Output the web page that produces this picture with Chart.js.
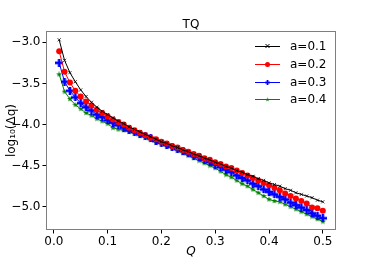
<!DOCTYPE html>
<html>
<head>
<meta charset="utf-8">
<script src="https://cdn.jsdelivr.net/npm/chart.js@4/dist/chart.umd.min.js"></script>
<style>
  html, body { margin: 0; padding: 0; background: #fff; }
  #wrap { width: 374px; height: 259px; }
</style>
</head>
<body>
<div id="wrap"><canvas id="c" width="374" height="259"></canvas></div>
<script>
// Q values, 0.01 .. 0.50
const qValues = [
  0.01, 0.02, 0.03, 0.04, 0.05, 0.06, 0.07, 0.08, 0.09, 0.10,
  0.11, 0.12, 0.13, 0.14, 0.15, 0.16, 0.17, 0.18, 0.19, 0.20,
  0.21, 0.22, 0.23, 0.24, 0.25, 0.26, 0.27, 0.28, 0.29, 0.30,
  0.31, 0.32, 0.33, 0.34, 0.35, 0.36, 0.37, 0.38, 0.39, 0.40,
  0.41, 0.42, 0.43, 0.44, 0.45, 0.46, 0.47, 0.48, 0.49, 0.50
];

const a01 = [
  -2.97, -3.22, -3.37, -3.48, -3.58, -3.66, -3.73, -3.79, -3.84, -3.88,
  -3.92, -3.96, -3.99, -4.03, -4.06, -4.09, -4.12, -4.15, -4.18, -4.21,
  -4.23, -4.26, -4.28, -4.31, -4.33, -4.36, -4.38, -4.41, -4.43, -4.46,
  -4.48, -4.51, -4.53, -4.56, -4.58, -4.61, -4.63, -4.66, -4.68, -4.71,
  -4.73, -4.75, -4.78, -4.80, -4.83, -4.85, -4.87, -4.89, -4.92, -4.94
];

const a02 = [
  -3.11, -3.36, -3.49, -3.59, -3.66, -3.72, -3.77, -3.82, -3.86, -3.90,
  -3.94, -3.97, -4.00, -4.04, -4.07, -4.10, -4.13, -4.16, -4.18, -4.21,
  -4.23, -4.26, -4.28, -4.31, -4.33, -4.36, -4.38, -4.41, -4.43, -4.46,
  -4.48, -4.51, -4.53, -4.56, -4.59, -4.62, -4.65, -4.68, -4.71, -4.74,
  -4.77, -4.80, -4.84, -4.87, -4.90, -4.93, -4.96, -5.01, -5.02, -5.05
];

const a03 = [
  -3.25, -3.48, -3.59, -3.67, -3.74, -3.79, -3.83, -3.88, -3.91, -3.95,
  -3.98, -4.01, -4.04, -4.07, -4.09, -4.12, -4.14, -4.17, -4.20, -4.22,
  -4.25, -4.27, -4.30, -4.32, -4.35, -4.38, -4.40, -4.43, -4.46, -4.49,
  -4.52, -4.55, -4.58, -4.62, -4.65, -4.68, -4.72, -4.75, -4.79, -4.82,
  -4.85, -4.88, -4.91, -4.95, -4.98, -5.01, -5.04, -5.08, -5.11, -5.14
];

const a04 = [
  -3.39, -3.60, -3.69, -3.76, -3.81, -3.86, -3.89, -3.93, -3.96, -3.99,
  -4.04, -4.06, -4.07, -4.09, -4.11, -4.14, -4.16, -4.19, -4.22, -4.24,
  -4.27, -4.29, -4.32, -4.35, -4.38, -4.41, -4.44, -4.47, -4.50, -4.53,
  -4.57, -4.61, -4.64, -4.68, -4.72, -4.75, -4.79, -4.83, -4.87, -4.91,
  -4.93, -4.94, -4.97, -5.00, -5.03, -5.06, -5.09, -5.12, -5.15, -5.18
];

const seriesLabels = ["a=0.1", "a=0.2", "a=0.3", "a=0.4"];
const xTicks = [0.0, 0.1, 0.2, 0.3, 0.4, 0.5];
const yTicks = [-5.0, -4.5, -4.0, -3.5, -3.0];

const FONT = "DejaVu Sans";

// filled plus marker (matplotlib 'P')
function plusMarker(color, s) {
  const cv = document.createElement("canvas");
  cv.width = s; cv.height = s;
  const g = cv.getContext("2d");
  g.fillStyle = color;
  const t = s / 3;
  g.fillRect(t, 0, t, s);
  g.fillRect(0, t, s, t);
  return cv;
}

// filled star marker (matplotlib '*')
function starMarker(color, s) {
  const cv = document.createElement("canvas");
  cv.width = s; cv.height = s;
  const g = cv.getContext("2d");
  g.fillStyle = color;
  g.beginPath();
  const c = s / 2, ro = s / 2, ri = s / 4.5;
  for (let i = 0; i < 10; i++) {
    const r = i % 2 ? ri : ro;
    const ang = -Math.PI / 2 + i * Math.PI / 5;
    const px = c + r * Math.cos(ang), py = c + r * Math.sin(ang);
    if (i === 0) g.moveTo(px, py); else g.lineTo(px, py);
  }
  g.closePath();
  g.fill();
  return cv;
}

function pts(ys) {
  return qValues.map((q, i) => ({ x: q, y: ys[i] }));
}

const minus = v => (v < 0 ? "\u2212" : "") + Math.abs(v).toFixed(1);

const frameAndLegend = {
  id: "frameAndLegend",
  afterDraw(chart) {
    const ctx = chart.ctx;
    const a = chart.chartArea;
    ctx.save();
    ctx.strokeStyle = "#7f7f7f";
    ctx.lineWidth = 1;
    ctx.strokeRect(a.left + 0.5, a.top + 0.5, a.right - a.left - 1, a.bottom - a.top - 1);

    // title
    ctx.fillStyle = "#000";
    ctx.font = "12px '" + FONT + "'";
    ctx.textAlign = "center";
    ctx.textBaseline = "alphabetic";
    ctx.fillText("TQ", (a.left + a.right) / 2, 28);

    // legend
    const lx0 = 255, lx1 = 280, tx = 290;
    const rows = [46, 64, 82, 99];
    chart.data.datasets.forEach((ds, i) => {
      const y = rows[i];
      ctx.strokeStyle = ds.borderColor;
      ctx.lineWidth = 1;
      ctx.beginPath();
      ctx.moveTo(lx0, y + 0.5);
      ctx.lineTo(lx1, y + 0.5);
      ctx.stroke();
      const cx = (lx0 + lx1) / 2;
      const st = ds.pointStyle;
      if (st === "crossRot") {
        ctx.beginPath();
        ctx.moveTo(cx - 2, y - 2); ctx.lineTo(cx + 2, y + 2);
        ctx.moveTo(cx + 2, y - 2); ctx.lineTo(cx - 2, y + 2);
        ctx.stroke();
      } else if (st === "circle") {
        ctx.fillStyle = ds.backgroundColor;
        ctx.beginPath();
        ctx.arc(cx, y + 0.5, 2.5, 0, Math.PI * 2);
        ctx.fill();
      } else {
        const w = st.width * 0.7;
        ctx.drawImage(st, cx - w / 2, y + 0.5 - w / 2, w, w);
      }
      ctx.fillStyle = "#000";
      ctx.font = "12px '" + FONT + "'";
      ctx.textAlign = "left";
      ctx.textBaseline = "middle";
      ctx.fillText(ds.label, tx, y + 1);
    });
    ctx.restore();
  }
};

new Chart(document.getElementById("c"), {
  type: "line",
  data: {
    datasets: [
      {
        label: seriesLabels[0],
        data: pts(a01),
        borderColor: "#000000",
        backgroundColor: "#000000",
        pointStyle: "crossRot",
        pointRadius: 2.2,
        pointBorderWidth: 0.8,
        borderWidth: 1
      },
      {
        label: seriesLabels[1],
        data: pts(a02),
        borderColor: "#ff0000",
        backgroundColor: "#ff0000",
        pointStyle: "circle",
        pointRadius: 3,
        pointBorderWidth: 0,
        borderWidth: 1
      },
      {
        label: seriesLabels[2],
        data: pts(a03),
        borderColor: "#0000ff",
        backgroundColor: "#0000ff",
        pointStyle: plusMarker("#0000ff", 8),
        borderWidth: 1
      },
      {
        label: seriesLabels[3],
        data: pts(a04),
        borderColor: "#008000",
        backgroundColor: "#008000",
        pointStyle: starMarker("#008000", 6),
        borderWidth: 1
      }
    ]
  },
  options: {
    responsive: false,
    animation: false,
    layout: { padding: { left: 0, right: 38, top: 31, bottom: 0 } },
    plugins: {
      legend: { display: false },
      title: { display: false },
      tooltip: { enabled: false }
    },
    elements: { line: { tension: 0 } },
    scales: {
      x: {
        type: "linear",
        min: -0.0145,
        max: 0.5245,
        afterBuildTicks: s => { s.ticks = xTicks.map(v => ({ value: v })); },
        afterFit: s => { s.height = 29; },
        ticks: {
          color: "#000",
          font: { family: FONT, size: 12 },
          padding: 1,
          maxRotation: 0,
          callback: v => minus(v)
        },
        grid: { display: true, drawOnChartArea: false, drawTicks: true, tickLength: 3.5, color: "#000" },
        border: { display: false },
        title: {
          display: true,
          text: "Q",
          color: "#000",
          font: { family: FONT, size: 12, style: "italic" },
          padding: { top: 0, bottom: 0 }
        }
      },
      y: {
        type: "linear",
        min: -5.283,
        max: -2.863,
        afterBuildTicks: s => { s.ticks = yTicks.map(v => ({ value: v })); },
        afterFit: s => { s.width = 46; },
        ticks: {
          color: "#000",
          font: { family: FONT, size: 12 },
          padding: 2,
          callback: v => minus(v)
        },
        grid: { display: true, drawOnChartArea: false, drawTicks: true, tickLength: 3.5, color: "#000" },
        border: { display: false },
        title: {
          display: true,
          text: "log\u2081\u2080(\u0394q)",
          color: "#000",
          font: { family: FONT, size: 12 },
          padding: { top: 5, bottom: 0 }
        }
      }
    }
  },
  plugins: [frameAndLegend]
});
</script>
</body>
</html>
